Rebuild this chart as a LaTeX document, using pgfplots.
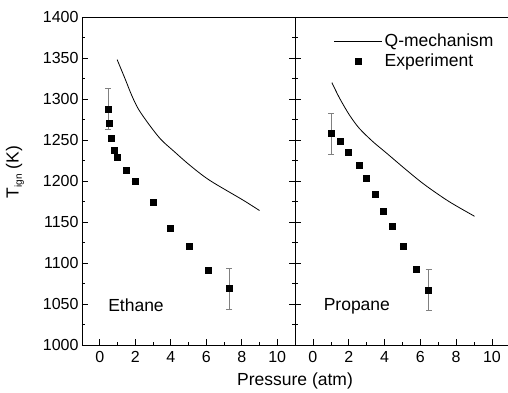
\documentclass[border=0pt]{standalone}
\usepackage{pgfplots}
\pgfplotsset{compat=1.18}
\usepackage{fontspec}
\setmainfont{Liberation Sans}
\begin{document}
\begin{tikzpicture}[x=1pt,y=1pt]
\path[use as bounding box] (0,0) rectangle (508,392);
\pgfplotsset{
  myax/.style={
    scale only axis, width=213pt, height=328pt,
    ymin=1000, ymax=1400, xmin=-1, xmax=11,
    xtick={0,2,4,6,8,10}, ytick={1000,1050,...,1400},
    minor x tick num=1, minor y tick num=1,
    tick align=inside,
    major tick length=6pt, minor tick length=3pt,
    xtick pos=left,
    tick style={black, line width=0.6pt},
    axis line style={-, line width=0.8pt},
    ticklabel style={font=\fontsize{16}{16}\selectfont},
    /pgf/number format/assume math mode=true,
    /pgf/number format/1000 sep={},
    label style={font=\fontsize{17.5}{17.5}\selectfont},
    xticklabel style={yshift=-3pt},
    clip=false,
  },
  errst/.style={only marks, mark=square*, mark size=3pt, mark options={black},
    error bars/.cd, y dir=both, y explicit,
    error bar style={gray, line width=0.6pt},
    error mark options={rotate=90, mark size=3pt, gray, line width=0.6pt}},
}
\begin{axis}[myax, at={(82pt,47pt)}, anchor=south west,
  ytick pos=both,
  ylabel={T\raisebox{-0.35ex}{\fontsize{10}{10}\selectfont ign} (K)},
  ylabel style={yshift=12pt, xshift=9pt},
  xlabel={Pressure (atm)},
  xlabel style={at={(rel axis cs:1,0)}, anchor=north, yshift=-24pt},
]
\addplot[black, line width=0.8pt, smooth] coordinates {
(0.98,1348) (1.42,1325) (1.80,1304.5) (2.17,1288) (2.74,1270) (3.43,1251) (4.16,1236.6) (5.06,1219.5) (6.18,1201) (8.05,1177) (9.0,1164)};
\addplot[errst] table[x=x,y=y,y error=e] {
x y e
0.47 1288 25
0.52 1271 0
0.64 1252 0
0.79 1238 0
0.97 1229 0
1.48 1213 0
1.97 1200 0
3.0 1174 0
3.99 1143 0
5.02 1121 0
6.1 1091 0
7.3 1069 25
};
\node[anchor=west, font=\fontsize{17.5}{17.5}\selectfont] at (axis cs:0.28,1048) {Ethane};
\end{axis}
\begin{axis}[myax, width=214.8pt, at={(295pt,47pt)}, anchor=south west,
  ytick pos=left, yticklabels={},
  legend style={draw=none, fill=none, at={(rel axis cs:0.18,0.955)}, anchor=north west,
    font=\fontsize{17.5}{17.5}\selectfont, row sep=2pt, legend cell align=left,
    inner sep=0pt},
]
\addplot[black, line width=0.8pt, smooth,
  legend image code/.code={\draw[black, line width=0.8pt] (0pt,0pt) -- (48pt,0pt);}] coordinates {
(1.06,1320) (1.49,1301) (2.04,1280.5) (2.60,1264) (3.35,1248) (4.06,1235) (5.3,1212) (6.27,1195) (7.6,1175) (9.03,1157)};
\addlegendentry{Q-mechanism}
\addplot[legend image code/.code={\fill[black] (21pt,-3pt) rectangle (27pt,3pt); \path[draw=none, fill=none] (0pt,0pt) -- (48pt,0pt);},
  errst] table[x=x,y=y,y error=e] {
x y e
1.02 1258 25
1.51 1248 0
1.99 1235 0
2.57 1219 0
3.0 1203 0
3.48 1184 0
3.95 1163 0
4.41 1145 0
5.03 1121 0
5.75 1093 0
6.46 1067 25
};
\addlegendentry{Experiment}
\node[anchor=west, font=\fontsize{17.5}{17.5}\selectfont] at (axis cs:0.41,1047) {Propane};
\end{axis}
\end{tikzpicture}
\end{document}
